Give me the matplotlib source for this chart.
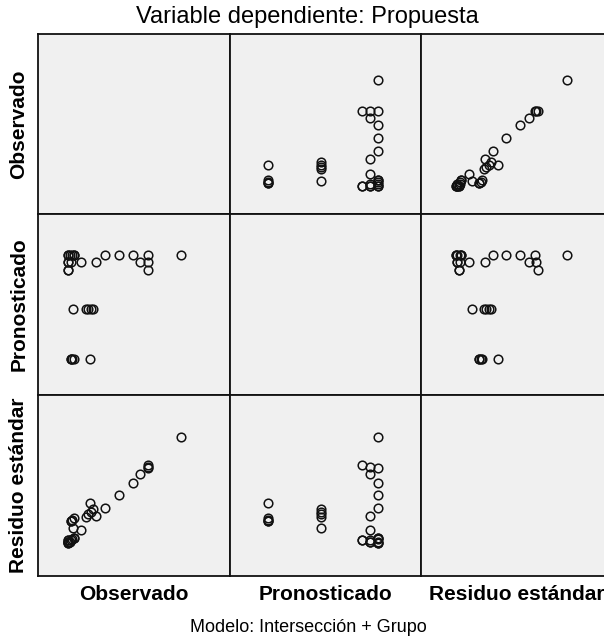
import matplotlib
matplotlib.use("Agg")
import matplotlib.pyplot as plt

plt.rcParams['font.family'] = ['Liberation Sans', 'DejaVu Sans']

# Variables of the scatterplot matrix
var_names = ["Observado", "Pronosticado", "Residuo estándar"]

# Observed values, grouped by the five Grupo levels
observado = [
    10.00, 7.08, 5.72, 4.54, 3.30, 0.00, 0.00, 0.15, 0.35, 0.50, 0.50,   # group A
    7.08, 6.40, 2.48, 1.09, 0.00, 0.00, 0.20,                            # group B
    7.08, 0.00, 0.00,                                                    # group C
    0.44, 1.53, 1.77, 1.98, 2.21,                                        # group D
    0.21, 0.21, 0.35, 0.50, 1.92,                                        # group E
]

# Predicted value (group mean) for each case
pronosticado = [
    2.06, 2.06, 2.06, 2.06, 2.06, 2.06, 2.06, 2.06, 2.06, 2.06, 2.06,
    1.93, 1.93, 1.93, 1.93, 1.93, 1.93, 1.93,
    1.80, 1.80, 1.80,
    1.09, 1.09, 1.09, 1.09, 1.09,
    0.19, 0.19, 0.19, 0.19, 0.19,
]

# Standardized residual for each case
residuo = [
    2.94, 1.86, 1.36, 0.92, 0.46, -0.76, -0.76, -0.71, -0.63, -0.58, -0.58,
    1.91, 1.66, 0.20, -0.31, -0.72, -0.72, -0.64,
    1.96, -0.67, -0.67,
    -0.24, 0.16, 0.25, 0.33, 0.42,
    0.01, 0.01, 0.06, 0.12, 0.64,
]

data = [observado, pronosticado, residuo]
limits = [(-2.68, 14.33), (-0.455, 2.80), (-1.92, 4.43)]

W, H = 604, 638
fig = plt.figure(figsize=(W / 100, H / 100), dpi=100)

col_edges = [38, 230, 421, 612]
row_edges = [34, 214, 395, 576]

for i in range(3):          # row -> y variable
    for j in range(3):      # column -> x variable
        x0, x1 = col_edges[j], col_edges[j + 1]
        y0, y1 = row_edges[i], row_edges[i + 1]
        ax = fig.add_axes([x0 / W, 1 - y1 / H, (x1 - x0) / W, (y1 - y0) / H])
        ax.set_facecolor("#F0F0F0")
        for sp in ax.spines.values():
            sp.set_linewidth(1.3)
            sp.set_color("#111111")
        ax.set_xticks([])
        ax.set_yticks([])
        ax.set_xlim(*limits[j])
        ax.set_ylim(*limits[i])
        if i != j:
            ax.plot(data[j], data[i], linestyle="none", marker="o",
                    markersize=6.2, markerfacecolor="none",
                    markeredgecolor="#111111", markeredgewidth=1.1)

# Column labels
for j, name in enumerate(var_names):
    cx = (col_edges[j] + col_edges[j + 1]) / 2
    fig.text(cx / W, 1 - 594 / H, name, ha="center", va="center",
             fontsize=15, fontweight="bold")

# Row labels
for i, name in enumerate(var_names):
    cy = (row_edges[i] + row_edges[i + 1]) / 2
    fig.text(19 / W, 1 - cy / H, name, ha="center", va="center",
             rotation=90, fontsize=15, fontweight="bold")

fig.text(307 / W, 1 - 17 / H, "Variable dependiente: Propuesta",
         ha="center", va="center", fontsize=17)
fig.text(308 / W, 1 - 628 / H, "Modelo: Intersección + Grupo",
         ha="center", va="center", fontsize=13)

fig.savefig("out.png", dpi=100)
